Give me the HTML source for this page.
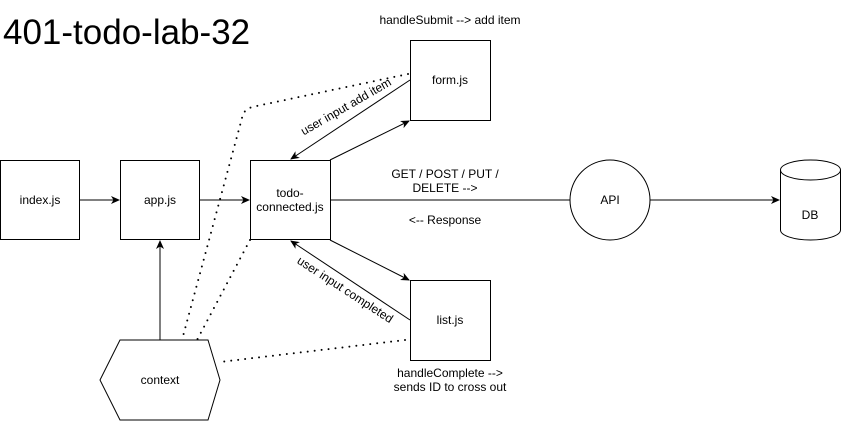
<!DOCTYPE html>
<html><head><style>
body{margin:0;background:#fff;}
svg{display:block;font-family:"Liberation Sans",Arial,sans-serif;}
</style></head><body>
<svg width="841" height="421" viewBox="0 0 841 421" xmlns="http://www.w3.org/2000/svg">
<defs><marker id="a" markerWidth="10" markerHeight="10" refX="8" refY="5" orient="auto" markerUnits="userSpaceOnUse"><path d="M0,1 L9,5 L0,9 L2.5,5 Z" fill="#000"/></marker></defs>
<text x="3" y="44" font-size="35">401-todo-lab-32</text>
<g fill="#fff" stroke="#000" stroke-width="1">
<rect x="0.5" y="160.5" width="79" height="79"/>
<rect x="120.5" y="160.5" width="79" height="79"/>
<rect x="250.5" y="160.5" width="80" height="79"/>
<rect x="410.5" y="40.5" width="80" height="80"/>
<rect x="410.5" y="280.5" width="80" height="80"/>
<circle cx="610" cy="200" r="40"/>
<path d="M780.5,170 A30,10 0 0 1 840.5,170 L840.5,230 A30,10 0 0 1 780.5,230 Z"/>
<path d="M780.5,170 A30,10 0 0 0 840.5,170" fill="none"/>
<polygon points="120,340 208,340 220,380 208,420 120,420 100,380"/>
</g>
<g stroke="#000" fill="none" stroke-width="1">
<line x1="80" y1="200" x2="119" y2="200" marker-end="url(#a)"/>
<line x1="200" y1="200" x2="249" y2="200" marker-end="url(#a)"/>
<line x1="331" y1="200" x2="570" y2="200"/>
<line x1="650" y1="200" x2="779" y2="200" marker-end="url(#a)"/>
<line x1="160" y1="340" x2="160" y2="241" marker-end="url(#a)"/>
<line x1="410" y1="80" x2="291" y2="159" marker-end="url(#a)"/>
<line x1="330" y1="160" x2="409" y2="121" marker-end="url(#a)"/>
<line x1="330" y1="240" x2="409" y2="280" marker-end="url(#a)"/>
<line x1="410" y1="320" x2="291" y2="241" marker-end="url(#a)"/>
</g>
<g stroke="#000" fill="none" stroke-width="2" stroke-dasharray="0 7" stroke-linecap="round">
<path d="M408,74 L252,107 Q243,110 242,118 L182,340"/>
<path d="M250,240 L197,340"/>
<path d="M405,340 L220,362"/>
</g>
<g font-size="12" text-anchor="middle">
<text x="450" y="24">handleSubmit --&gt; add item</text>
<text x="290" y="197">todo-</text>
<text x="290" y="211">connected.js</text>
<text x="40" y="204">index.js</text>
<text x="160" y="204">app.js</text>
<text x="450" y="84">form.js</text>
<text x="450" y="324">list.js</text>
<text x="610" y="204">API</text>
<text x="810" y="219">DB</text>
<text x="160" y="384">context</text>
<text x="445" y="178">GET / POST / PUT /</text>
<text x="445" y="192">DELETE --&gt;</text>
<text x="445" y="224">&lt;-- Response</text>
<text x="450" y="377">handleComplete --&gt;</text>
<text x="450" y="391">sends ID to cross out</text>
<text transform="translate(348,110) rotate(-30)">user input add item</text>
<text transform="translate(343,293) rotate(33)">user input completed</text>
</g>
</svg>
</body></html>
